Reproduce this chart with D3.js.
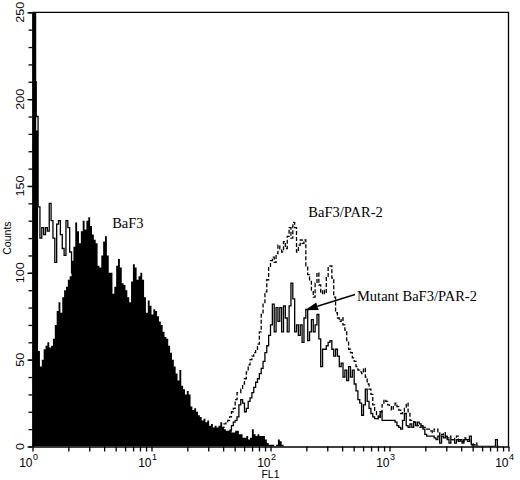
<!DOCTYPE html>
<html><head><meta charset="utf-8">
<script src="https://cdn.jsdelivr.net/npm/d3@7/dist/d3.min.js"></script>
<style>body{margin:0;background:#fff}svg{display:block}</style>
</head><body><svg id="c" width="520" height="480"></svg>
<script>
// ---- data ----
const CHANNELS = 256;                 // channels over 4 decades
const xExponents = ["0","1","2","3","4"];
const yMajorTicks = [0,50,100,150,200,250];
const xAxisTitle = "FL1";
const yAxisTitle = "Counts";

// BaF3 (filled), starts at channel 0
const baf3 = [260,260,182,55,46,50,56,58,60,57,
 58,62,70,78,83,77,86,90,92,96,
 98,107,115,129,124,117,124,130,125,130,
 132,127,122,119,117,104,103,110,118,121,
 110,100,100,88,92,104,108,103,94,93,
 90,86,83,95,105,103,96,98,100,96,
 86,77,84,81,76,79,78,75,72,70,
 66,63,62,58,54,50,46,42,38,44,
 35,33,30,32,30,23,21,22,20,18,
 17,15,16,14,15,12,13,11,12,11,
 12,14,11,10,9,9,10,8,8,9,
 9,7,7,5,5,6,4,5,10,7,
 6,7,6,6,6,4,2,1,1,1,
 0,1,4,3,1];

// Mutant BaF3/PAR-2 (solid), low segment from channel 0
const mutantLowStart = 0;
const mutantLow = [250,210,190,138,120,126,122,126,124,140,130,120,106,128,130,122,114,110,130,126,112,100];
// Mutant BaF3/PAR-2 (solid), high segment from channel 100
const mutantHighStart = 100;
const mutantHigh = [6,7,7,8,8,8,9,12,14,15,
 17,24,27,25,20,22,26,28,31,34,
 37,39,42,45,49,54,58,64,70,82,
 66,80,72,80,66,81,74,66,81,94,
 85,66,70,64,70,60,74,79,61,66,
 73,66,70,76,62,46,56,56,58,60,
 61,56,52,56,52,46,48,40,44,38,
 46,40,44,36,32,27,25,18,24,33,
 26,22,19,17,16,16,17,20,15,15,
 15,15,15,15,15,14,12,11,10,15,
 19,12,11,13,11,14,12,14,13,12,
 10,7,6,6,6,6,5,4,6,2,
 6,5,6,4,2,4,4,2,4,3,
 4,2,4,4,4,6,1,0,0,0,
 0,0,0,0,0,0,0,0,0,4,
 0];

// BaF3/PAR-2 (dashed), from channel 100
const parStart = 100;
const par = [9,10,11,13,14,15,17,20,22,27,
 31,31,33,36,39,43,47,50,52,54,
 56,59,66,76,82,89,96,103,107,109,
 106,111,116,113,112,118,114,121,126,120,
 129,126,112,116,119,117,119,104,99,95,
 90,86,94,100,93,88,90,88,98,103,
 104,97,86,77,74,72,74,70,67,61,
 56,54,51,49,46,44,43,42,45,40,
 36,33,30,24,20,18,16,20,24,27,
 26,24,23,21,23,25,23,21,19,20,
 22,25,19,15,15,14,13,12,11,12,
 11,11,10,10,9,8,10,10,8,6,
 7,8,6,5,6,4,4,5,6,4,
 4,3,5,4,3,4,2,1,2,0];

// annotations in data coordinates
const labels = [
  {text:"BaF3", fl:4.67, count:126},
  {text:"BaF3/PAR-2", fl:208, count:132},
  {text:"Mutant BaF3/PAR-2", fl:533, count:84}
];
const arrowFrom = {fl:513, count:87.5};
const arrowTo = {fl:195, count:78.5};

// ---- chart ----
const svg = d3.select("#c");
const L=32.5, R=508.5, T=12.3, B=446.5;
const x = d3.scaleLog().domain([1,1e4]).range([L,R]);
const y = d3.scaleLinear().domain([0,250]).range([B,T]);
const edge = i => x(Math.pow(10, 4*i/CHANNELS));

function stepPts(vals, start){
  const p = vals.map((v,k)=>[edge(start+k), v]);
  p.push([edge(start+vals.length), vals[vals.length-1]]);
  return p;
}

svg.append("clipPath").attr("id","pc").append("rect")
  .attr("x",L).attr("y",T).attr("width",R-L).attr("height",B-T);
const plot = svg.append("g").attr("clip-path","url(#pc)");

const area = d3.area().x(d=>d[0]).y0(y(0)).y1(d=>y(d[1])).curve(d3.curveStepAfter);
const line = d3.line().x(d=>d[0]).y(d=>y(d[1])).curve(d3.curveStepAfter);

plot.append("path").datum(stepPts(baf3,0)).attr("d",area).attr("fill","#000");
plot.append("path").datum(stepPts(par,parStart)).attr("d",line)
  .attr("fill","none").attr("stroke","#000").attr("stroke-width",1.3).attr("stroke-dasharray","4,2");
plot.append("path").datum(stepPts(mutantLow,mutantLowStart)).attr("d",line)
  .attr("fill","none").attr("stroke","#000").attr("stroke-width",1.3);
plot.append("path").datum(stepPts(mutantHigh,mutantHighStart)).attr("d",line)
  .attr("fill","none").attr("stroke","#000").attr("stroke-width",1.3);

// frame top/right
svg.append("path").attr("d",`M${L},${T}H${R}V${B}`).attr("fill","none").attr("stroke","#000").attr("stroke-width",1.3);

// y axis
const yMinor = d3.range(0,251,10);
svg.append("g").attr("transform",`translate(${L},0)`)
  .call(d3.axisLeft(y).tickValues(yMinor).tickSize(4).tickSizeOuter(0).tickFormat(""))
  .call(g=>g.selectAll("line,path").attr("stroke","#000").attr("stroke-width",1.3));
svg.append("g").attr("transform",`translate(${L},0)`)
  .call(d3.axisLeft(y).tickValues(yMajorTicks).tickSize(5).tickSizeOuter(0).tickFormat(""))
  .call(g=>g.selectAll("line,path").attr("stroke","#000").attr("stroke-width",1.3));
svg.append("g").selectAll("text").data(yMajorTicks).join("text")
  .attr("transform",d=>`translate(23.5,${y(d)}) rotate(-90) scale(1.2,1)`)
  .attr("text-anchor","middle").attr("font-family","Liberation Sans, Arial, sans-serif")
  .attr("font-size",10.5).text(d=>d);
svg.append("text").attr("transform",`translate(11,${y(120)}) rotate(-90)`)
  .attr("text-anchor","middle").attr("font-family","Liberation Sans, Arial, sans-serif")
  .attr("font-size",10.5).text(yAxisTitle);

// x axis
const xMinor = [];
for (let e=0;e<4;e++) for (let m=1;m<10;m++) xMinor.push(m*Math.pow(10,e));
xMinor.push(1e4);
svg.append("g").attr("transform",`translate(0,${B})`)
  .call(d3.axisBottom(x).tickValues(xMinor).tickSize(5).tickSizeOuter(0).tickFormat(""))
  .call(g=>g.selectAll("line,path").attr("stroke","#000").attr("stroke-width",1.3));
const xl = svg.append("g").attr("font-family","Liberation Sans, Arial, sans-serif");
xExponents.forEach(e=>{
  const px = x(Math.pow(10,+e));
  xl.append("text").attr("x",px).attr("y",467).attr("text-anchor","end").attr("font-size",12).text("10");
  xl.append("text").attr("x",px+0.5).attr("y",459.5).attr("text-anchor","start").attr("font-size",9).text(e);
});
xl.append("text").attr("x",x(100)).attr("y",478).attr("text-anchor","middle").attr("font-size",10.5).text(xAxisTitle);

// annotations
svg.append("g").selectAll("text").data(labels).join("text")
  .attr("x",d=>x(d.fl)).attr("y",d=>y(d.count))
  .attr("font-family","Liberation Serif, Times New Roman, serif").attr("font-size",14.5)
  .text(d=>d.text);
const ax0=x(arrowFrom.fl), ay0=y(arrowFrom.count), ax1=x(arrowTo.fl), ay1=y(arrowTo.count);
const dx=ax1-ax0, dy=ay1-ay0, len=Math.hypot(dx,dy), ux=dx/len, uy=dy/len;
const hl=13, hw=4;
const bx=ax1-ux*hl, by=ay1-uy*hl;
svg.append("line").attr("x1",ax0).attr("y1",ay0).attr("x2",bx).attr("y2",by).attr("stroke","#000").attr("stroke-width",1.4);
svg.append("path").attr("d",`M${ax1},${ay1}L${bx-uy*hw},${by+ux*hw}L${bx+uy*hw},${by-ux*hw}Z`).attr("fill","#000");
</script></body></html>
